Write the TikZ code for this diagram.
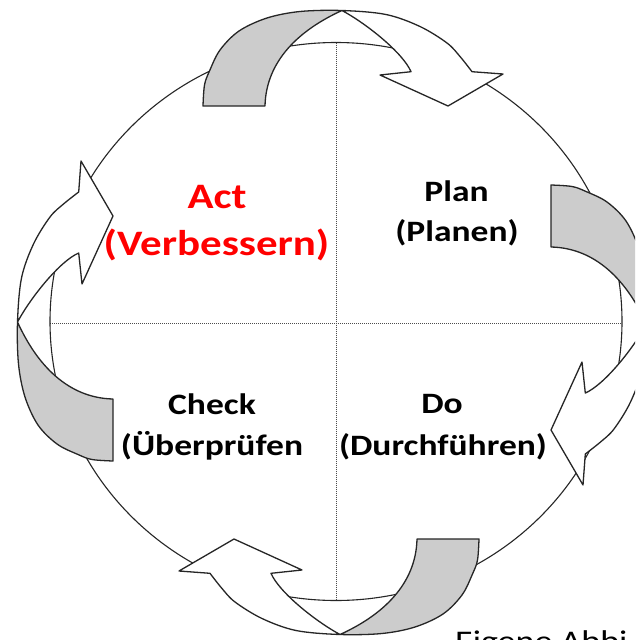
\documentclass[tikz,border=0pt]{standalone}
\usepackage{fontspec}
\usepackage{graphicx}
\setmainfont{Carlito}[FakeStretch=1.2]
\definecolor{backgray}{RGB}{204,204,204}
\tikzset{
  arrline/.style={line width=1.3pt, draw=black!85, line join=round},
  circline/.style={line width=1.1pt, draw=black!85},
  dotline/.style={line width=1pt, draw=black!70, dash pattern=on 1pt off 1pt},
  lbl/.style={font=\bfseries\fontsize{29.6}{32}\selectfont, anchor=base, inner sep=0pt, text=black},
  redlbl/.style={lbl, font=\bfseries\fontsize{35.8}{40}\selectfont, text=red},
}
\newcommand{\pdcaouterfull}{(-138,-217) (-136.5,-238) (-131.5,-252) (-121,-273) (-102,-292) (-74,-305) (-41,-311.5) (1,-312.5) (45,-308.5) (79,-296.5) (106,-280) (119,-266.5) (131,-251.3)}
\newcommand{\pdcaarrowshape}{%
  % white body
  \fill[white] plot[smooth,tension=0.55] coordinates {(-138,-217) (-136.5,-238) (-131.5,-252) (-121,-273) (-102,-292) (-74,-305) (-41,-311.5) (1,-312.5) (45,-308.5) (79,-296.5) (106,-280) (119,-266.5) (131,-251.3)}
    -- (162,-249) -- (107,-217) -- (39,-248) -- (70,-251.3)
    .. controls (62,-270) and (26,-299) .. (1,-312.5)
    .. controls (-42,-293) and (-75,-262) .. (-76,-217) -- cycle;
  % shaded back part
  \fill[backgray] plot[smooth,tension=0.55] coordinates {(-138,-217) (-136.5,-238) (-131.5,-252) (-121,-273) (-102,-292) (-74,-305) (-41,-311.5) (1,-312.5)}
    .. controls (-42,-293) and (-75,-262) .. (-76,-217) -- cycle;
  % outline
  \draw[arrline] (-76,-217) -- plot[smooth,tension=0.55] coordinates {(-138,-217) (-136.5,-238) (-131.5,-252) (-121,-273) (-102,-292) (-74,-305) (-41,-311.5) (1,-312.5) (45,-308.5) (79,-296.5) (106,-280) (119,-266.5) (131,-251.3)}
    -- (162,-249) -- (107,-217) -- (39,-248) -- (70,-251.3)
    .. controls (62,-270) and (26,-299) .. (1,-312.5)
    .. controls (-42,-293) and (-75,-262) .. (-76,-217) -- cycle;
}
\begin{document}
\begin{tikzpicture}[x=1pt,y=-1pt]
\useasboundingbox (0,0) rectangle (635,640);
\fill[white] (0,0) rectangle (635,640);
\begin{scope}
\clip (0,0) rectangle (635,640);
% quadrant dividers
\coordinate (hl) at (50,323);
\coordinate (hr) at (622,323);
\coordinate (vt) at (336,42.7);
\coordinate (vb) at (336,600);
\draw[dotline] (hl) -- (hr);
\draw[dotline] (vt) -- (vb);
% cycle outline
\draw[circline] (336,321.5) ellipse [x radius=286pt, y radius=279pt];
% four curved arrows
\begin{scope}[shift={(341,323)}] \pdcaarrowshape \end{scope}
\begin{scope}[shift={(334,323)}, rotate=-90] \pdcaarrowshape \end{scope}
\begin{scope}[shift={(341,322)}, rotate=180] \pdcaarrowshape \end{scope}
\begin{scope}[shift={(330,323)}, rotate=90] \pdcaarrowshape \end{scope}
% labels
\node[redlbl] (act) at (217,208) {Act};
\node[redlbl] (actde) at (216.5,255) {(Verbessern)};
\node[lbl] (plan) at (456.5,201.7) {Plan};
\node[lbl] (plande) at (457,241.7) {(Planen)};
\node[lbl] (check) at (212,414) {Check};
\node[lbl] (checkde) at (212,455) {(Überprüfen};
\node[lbl] (do) at (442,413) {Do};
\node[lbl] (dode) at (443,455) {(Durchführen)};
\node[anchor=base west, inner sep=0pt, font=\fontsize{30}{32}\selectfont] (src) at (455,651) {Eigene Abbi};
\end{scope}
\end{tikzpicture}
\end{document}
